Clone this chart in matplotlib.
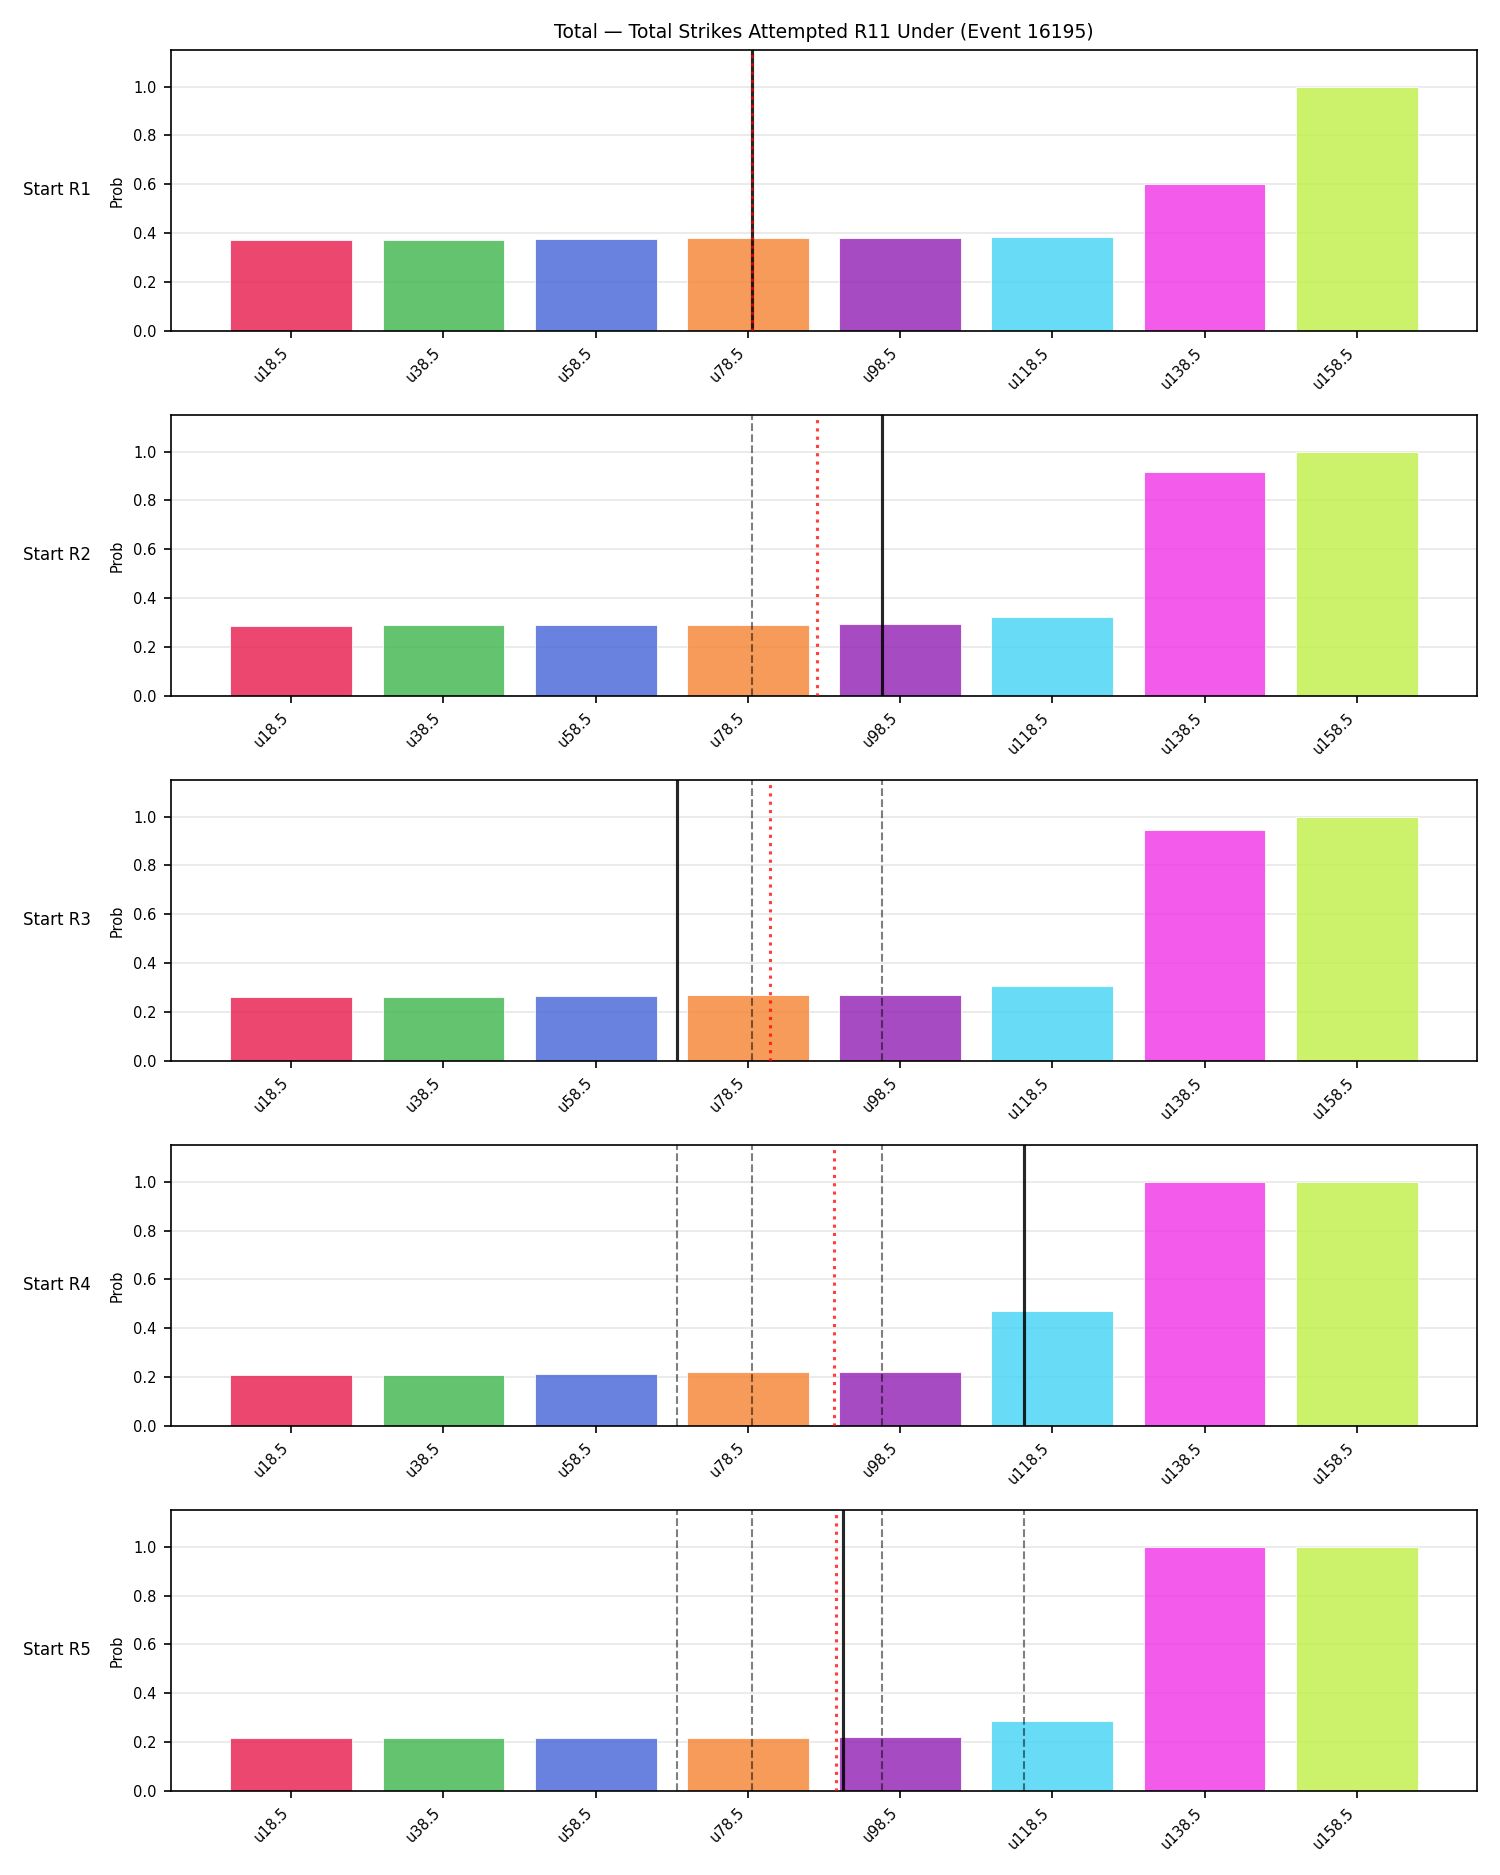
import matplotlib

matplotlib.use("Agg")
import matplotlib.pyplot as plt

TITLE = "Total — Total Strikes Attempted R11 Under (Event 16195)"
LINES = ["u18.5", "u38.5", "u58.5", "u78.5", "u98.5", "u118.5", "u138.5", "u158.5"]
COLORS = ["#e6194b", "#3cb44b", "#4363d8", "#f58231", "#911eb4", "#42d4f4", "#f032e6", "#bfef45"]
ROUNDS = ["Start R1", "Start R2", "Start R3", "Start R4", "Start R5"]

# under-probabilities per starting round
PROB_R1 = [0.373, 0.373, 0.377, 0.381, 0.381, 0.385, 0.599, 0.998]
PROB_R2 = [0.285, 0.289, 0.289, 0.289, 0.294, 0.322, 0.915, 0.998]
PROB_R3 = [0.262, 0.262, 0.266, 0.270, 0.270, 0.307, 0.944, 0.998]
PROB_R4 = [0.207, 0.207, 0.211, 0.219, 0.219, 0.470, 0.998, 0.998]
PROB_R5 = [0.218, 0.216, 0.216, 0.216, 0.221, 0.286, 0.998, 0.998]
PROBS = [PROB_R1, PROB_R2, PROB_R3, PROB_R4, PROB_R5]

# projection markers, in bar-index units
CURRENT_PROJ = [3.03, 3.878, 2.534, 4.817, 3.624]
MEAN_PROJ = [3.03, 3.454, 3.148, 3.565, 3.578]

plt.rcParams["font.size"] = 7

fig, axes = plt.subplots(len(ROUNDS), 1, figsize=(10, 12.5), dpi=150)
fig.subplots_adjust(left=0.114, right=0.9847, top=0.9733, bottom=0.04496, hspace=0.301)

xs = list(range(len(LINES)))
for i, (ax, label, probs) in enumerate(zip(axes, ROUNDS, PROBS)):
    ax.bar(xs, probs, color=COLORS, alpha=0.8, edgecolor="white", linewidth=0.5, zorder=2)
    for prev in CURRENT_PROJ[:i]:
        ax.axvline(prev, color="black", linestyle="--", linewidth=1.0, alpha=0.5, zorder=3)
    ax.axvline(CURRENT_PROJ[i], color="black", linewidth=1.5, alpha=0.85, zorder=4)
    ax.axvline(MEAN_PROJ[i], color="red", linestyle=":", linewidth=1.5, alpha=0.75, zorder=4)

    ax.set_ylim(0, 1.15)
    ax.set_xticks(xs)
    ax.set_xticklabels(LINES, rotation=45, ha="right")
    ax.set_ylabel("Prob")
    ax.grid(axis="y", alpha=0.3, zorder=0)
    ax.set_axisbelow(True)
    ax.annotate(
        label, xy=(0, 0.5), xytext=(-ax.yaxis.labelpad - 5, 0),
        xycoords=ax.yaxis.label, textcoords="offset points",
        size=8, ha="right", va="center",
    )

axes[0].set_title(TITLE, fontsize=9)
fig.savefig("out.png", dpi=150)
plt.close(fig)
